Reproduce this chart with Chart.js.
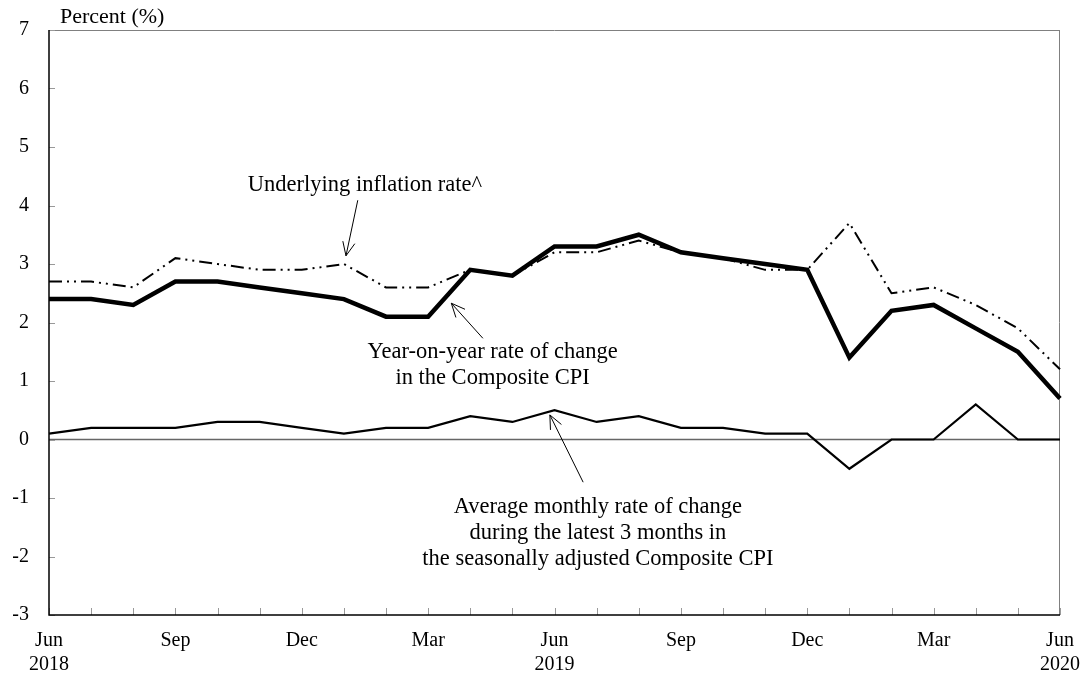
<!DOCTYPE html>
<html>
<head>
<meta charset="utf-8">
<script src="https://cdn.jsdelivr.net/npm/chart.js@4/dist/chart.umd.min.js"></script>
<style>
html,body{margin:0;padding:0;background:#fff;}
#wrap{width:1086px;height:678px;position:relative;}
</style>
</head>
<body>
<div id="wrap"><canvas id="c" width="1086" height="678"></canvas></div>
<script>
const months = ['Jun','Jul','Aug','Sep','Oct','Nov','Dec','Jan','Feb','Mar','Apr','May',
                'Jun','Jul','Aug','Sep','Oct','Nov','Dec','Jan','Feb','Mar','Apr','May','Jun'];
const years = ['2018','','','','','','','','','','','','2019','','','','','','','','','','','','2020'];
const shownMonths = ['Jun','Sep','Dec','Mar'];
const compositeCPI = [2.4,2.4,2.3,2.7,2.7,2.6,2.5,2.4,2.1,2.1,2.9,2.8,3.3,3.3,3.5,3.2,3.1,3.0,2.9,1.4,2.2,2.3,1.9,1.5,0.7];
const underlying   = [2.7,2.7,2.6,3.1,3.0,2.9,2.9,3.0,2.6,2.6,2.9,2.8,3.2,3.2,3.4,3.2,3.1,2.9,2.9,3.7,2.5,2.6,2.3,1.9,1.2];
const monthlyAvg   = [0.1,0.2,0.2,0.2,0.3,0.3,0.2,0.1,0.2,0.2,0.4,0.3,0.5,0.3,0.4,0.2,0.2,0.1,0.1,-0.5,0.0,0.0,0.6,0.0,0.0];
const yTicks = [-3,-2,-1,0,1,2,3,4,5,6,7];

// annotation texts, placed in data coordinates [index, value]
const notes = [
  {lines:['Underlying inflation rate^'], at:[7.50,4.35], tail:[7.33,4.09], tip:[7.05,3.14]},
  {lines:['Year-on-year rate of change','in the Composite CPI'], at:[10.53,1.50], tail:[10.30,1.73], tip:[9.55,2.33]},
  {lines:['Average monthly rate of change','during the latest 3 months in','the seasonally adjusted Composite CPI'], at:[13.03,-1.15], tail:[12.68,-0.73], tip:[11.89,0.42]}
];

const FONT = '"Liberation Serif","Times New Roman",serif';

const decor = {
  id:'decor',
  beforeDatasetsDraw(chart){
    const {ctx, chartArea:a, scales:{x,y}} = chart;
    ctx.save();
    ctx.strokeStyle = '#808080'; ctx.lineWidth = 1;
    ctx.beginPath();
    ctx.moveTo(a.left, a.top+0.5); ctx.lineTo(a.right, a.top+0.5);
    ctx.moveTo(a.right-0.5, a.top); ctx.lineTo(a.right-0.5, a.bottom);
    ctx.stroke();
    const y0 = y.getPixelForValue(0);
    ctx.strokeStyle = '#666'; ctx.lineWidth = 1.5;
    ctx.beginPath(); ctx.moveTo(a.left, y0); ctx.lineTo(a.right, y0); ctx.stroke();
    ctx.strokeStyle = '#999'; ctx.lineWidth = 1;
    ctx.beginPath();
    yTicks.forEach(v => { const py = Math.round(y.getPixelForValue(v))+0.5; ctx.moveTo(a.left, py); ctx.lineTo(a.left+6, py); });
    months.forEach((m,i) => { const px = Math.round(x.getPixelForValue(i))+0.5; ctx.moveTo(px, a.bottom); ctx.lineTo(px, a.bottom-7); });
    ctx.stroke();
    ctx.strokeStyle = '#000'; ctx.lineWidth = 1.5;
    ctx.beginPath();
    ctx.moveTo(a.left, a.top); ctx.lineTo(a.left, a.bottom); ctx.lineTo(a.right, a.bottom);
    ctx.stroke();
    ctx.restore();
  },
  afterDatasetsDraw(chart){
    const {ctx, chartArea:a, scales:{x,y}} = chart;
    ctx.save();
    ctx.fillStyle = '#000';
    ctx.font = '22px ' + FONT;
    ctx.textAlign = 'left'; ctx.textBaseline = 'middle';
    ctx.fillText('Percent (%)', a.left + 11, 17);
    ctx.font = '22.5px ' + FONT;
    ctx.textAlign = 'center';
    notes.forEach(n => {
      const cx = x.getPixelForValue(n.at[0]);
      const cy = y.getPixelForValue(n.at[1]);
      n.lines.forEach((t,k) => ctx.fillText(t, cx, cy + k*26));
      const x1 = x.getPixelForValue(n.tail[0]), y1 = y.getPixelForValue(n.tail[1]);
      const x2 = x.getPixelForValue(n.tip[0]), y2 = y.getPixelForValue(n.tip[1]);
      ctx.strokeStyle = '#000'; ctx.lineWidth = 1;
      ctx.beginPath(); ctx.moveTo(x1,y1); ctx.lineTo(x2,y2); ctx.stroke();
      const ang = Math.atan2(y2-y1, x2-x1), L = 15, w = 0.42;
      ctx.beginPath();
      ctx.moveTo(x2 - L*Math.cos(ang-w), y2 - L*Math.sin(ang-w));
      ctx.lineTo(x2, y2);
      ctx.lineTo(x2 - L*Math.cos(ang+w), y2 - L*Math.sin(ang+w));
      ctx.stroke();
    });
    ctx.restore();
  }
};

new Chart(document.getElementById('c'), {
  type:'line',
  data:{
    labels: months,
    datasets:[
      {label:'Average monthly rate of change', data: monthlyAvg, borderColor:'#000', borderWidth:2.2, pointRadius:0, tension:0, fill:false},
      {label:'Underlying inflation rate^', data: underlying, borderColor:'#000', borderWidth:2, borderDash:[13,5,2,5,2,5], pointRadius:0, tension:0, fill:false},
      {label:'Year-on-year rate of change in the Composite CPI', data: compositeCPI, borderColor:'#000', borderWidth:4.5, pointRadius:0, tension:0, fill:false, borderJoinStyle:'miter'}
    ]
  },
  options:{
    responsive:false,
    animation:false,
    devicePixelRatio:1,
    layout:{padding:{top:30, right:26, left:0, bottom:0}},
    plugins:{legend:{display:false}, tooltip:{enabled:false}},
    scales:{
      x:{
        type:'category',
        offset:false,
        grid:{display:false, drawTicks:false},
        border:{display:false},
        afterFit(s){ s.height = 63; s.paddingLeft = 0; s.paddingRight = 0; },
        ticks:{
          autoSkip:false, maxRotation:0, minRotation:0, padding:14,
          color:'#000', font:{family:FONT, size:20}, lineHeight:1.2,
          callback(v,i){ const m = months[i]; if(!shownMonths.includes(m)) return ''; return years[i] ? [m, years[i]] : m; }
        }
      },
      y:{
        min:-3, max:7,
        grid:{display:false, drawTicks:false},
        border:{display:false},
        afterFit(s){ s.width = 49; s.paddingTop = 0; s.paddingBottom = 0; },
        afterBuildTicks(s){ s.ticks = yTicks.map(v=>({value:v})); },
        ticks:{padding:20, color:'#000', font:{family:FONT, size:20}}
      }
    }
  },
  plugins:[decor]
});
</script>
</body>
</html>
